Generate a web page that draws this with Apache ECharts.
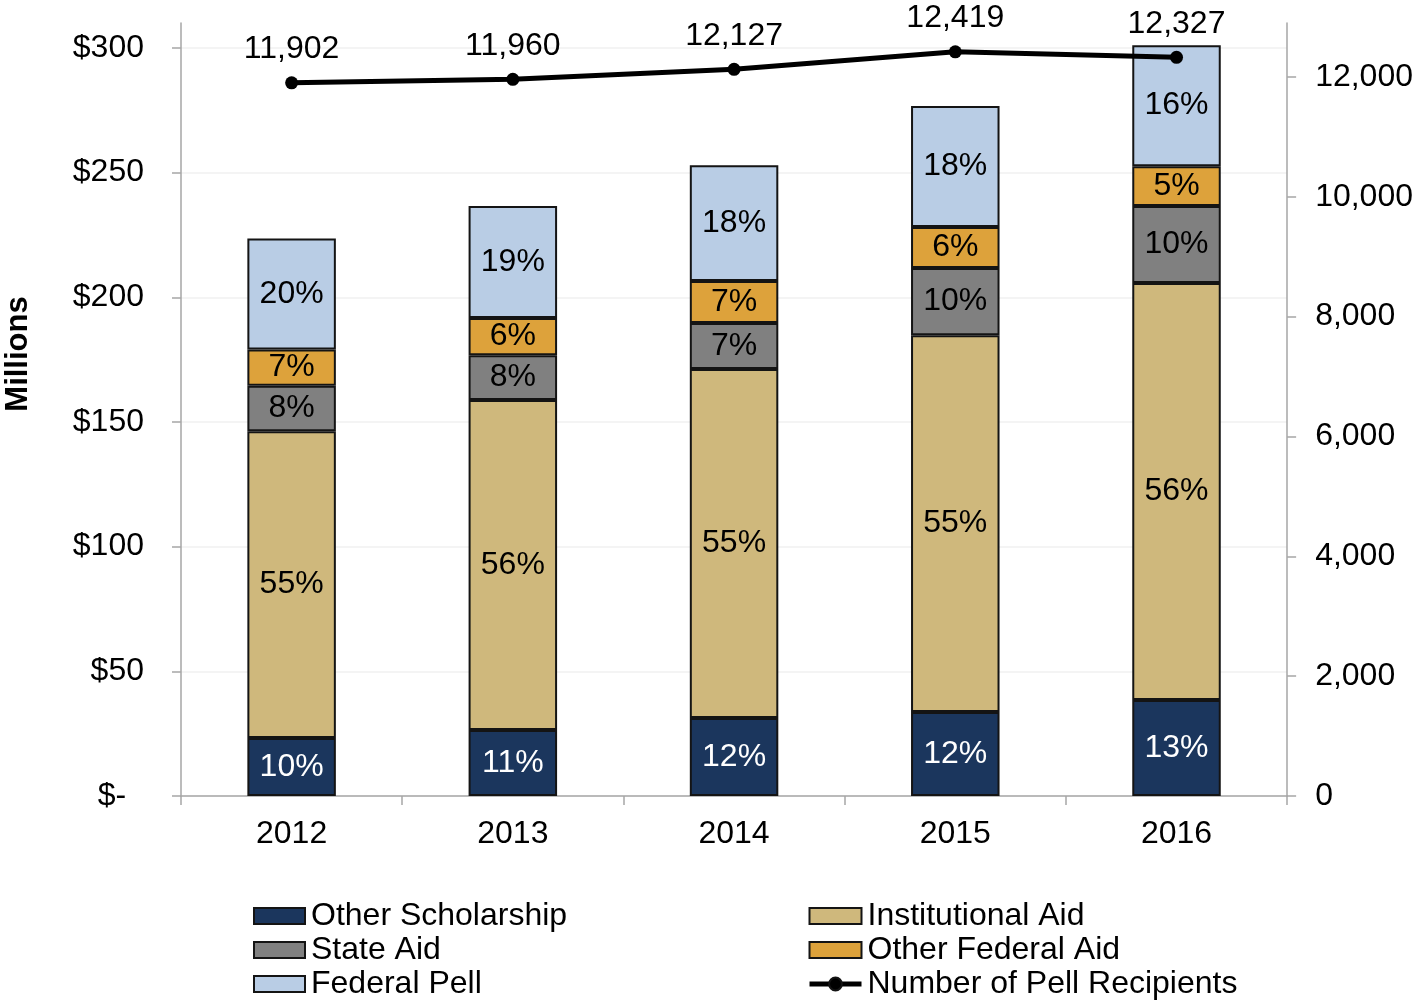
<!DOCTYPE html>
<html>
<head>
<meta charset="utf-8">
<title>Student Aid by Source</title>
<script src="https://cdn.jsdelivr.net/npm/echarts@6/dist/echarts.min.js"></script>
<style>
  html, body { margin: 0; padding: 0; background: #ffffff; }
  #chart { width: 1416px; height: 1002px; }
</style>
</head>
<body>
<div id="chart"></div>
<script>
// Aid dollars by source, in millions
const years = ['2012', '2013', '2014', '2015', '2016'];
const otherScholarship = [23.3, 26.5, 31.3, 33.7, 38.5];
const institutionalAid = [123.0, 132.3, 139.9, 151.1, 167.2];
const stateAid = [18.2, 18.0, 18.5, 26.9, 30.9];
const otherFederalAid = [14.6, 14.9, 16.8, 16.5, 16.0];
const federalPell = [44.5, 44.9, 46.5, 48.5, 48.5];
// Head count of Pell recipients (right axis)
const pellRecipients = [11902, 11960, 12127, 12419, 12327];

const dollarTicks = [0, 50, 100, 150, 200, 250, 300];
const countTicks = [0, 2000, 4000, 6000, 8000, 10000, 12000];

const FONT = "'Liberation Sans', Arial, sans-serif";
const FS = 32;
const BORDER = '#141414';

const stacks = [
  { name: 'Other Scholarship', data: otherScholarship, color: '#1B365D', text: '#ffffff' },
  { name: 'Institutional Aid', data: institutionalAid, color: '#CFB87C', text: '#000000' },
  { name: 'State Aid', data: stateAid, color: '#808080', text: '#000000' },
  { name: 'Other Federal Aid', data: otherFederalAid, color: '#DDA23B', text: '#000000' },
  { name: 'Federal Pell', data: federalPell, color: '#B9CDE5', text: '#000000' }
];

// total per year, used for the share labels inside each segment
const totals = years.map((_, i) => stacks.reduce((s, st) => s + st.data[i], 0));

const barSeries = stacks.map(st => ({
  name: st.name,
  type: 'bar',
  stack: 'aid',
  yAxisIndex: 0,
  barWidth: '40%',
  data: st.data,
  itemStyle: { color: st.color, borderColor: BORDER, borderWidth: 2 },
  label: {
    show: true,
    position: 'inside',
    color: st.text,
    fontFamily: FONT,
    fontSize: FS,
    formatter: p => Math.round(p.value / totals[p.dataIndex] * 100) + '%'
  },
  emphasis: { disabled: true }
}));

const lineSeries = {
  name: 'Number of Pell Recipients',
  type: 'line',
  yAxisIndex: 1,
  data: pellRecipients,
  z: 5,
  symbol: 'circle',
  symbolSize: 13,
  lineStyle: { color: '#000000', width: 5 },
  itemStyle: { color: '#000000' },
  label: {
    show: true,
    position: 'top',
    distance: 11,
    color: '#000000',
    fontFamily: FONT,
    fontSize: FS,
    formatter: p => p.value.toLocaleString('en-US')
  },
  emphasis: { disabled: true }
};

const legendText = { fontFamily: FONT, fontSize: FS, color: '#000000', lineHeight: 30, padding: [0, 0, 0, 1] };
const legendBase = {
  orient: 'vertical',
  top: 900,
  height: 110,
  padding: 0,
  itemHeight: 16,
  itemGap: 2,
  selectedMode: false,
  textStyle: legendText,
  itemStyle: { borderColor: BORDER, borderWidth: 2 },
  lineStyle: { width: 5 }
};

const option = {
  animation: false,
  backgroundColor: '#ffffff',
  textStyle: { fontFamily: FONT },
  grid: { left: 181, right: 124, top: 23, bottom: 206, containLabel: false },
  xAxis: {
    type: 'category',
    data: years,
    axisLine: { lineStyle: { color: '#a6a6a6', width: 1.5 } },
    axisTick: { show: true, length: 9, lineStyle: { color: '#a6a6a6', width: 1.5 } },
    axisLabel: { fontFamily: FONT, fontSize: FS, color: '#000000', margin: 22 }
  },
  yAxis: [
    {
      type: 'value',
      min: 0,
      max: 310,
      interval: 50,
      axisLine: { show: true, lineStyle: { color: '#a6a6a6', width: 1.5 } },
      axisTick: { show: true, length: 9, customValues: dollarTicks, lineStyle: { color: '#a6a6a6', width: 1.5 } },
      axisLabel: {
        fontFamily: FONT, fontSize: FS, color: '#000000', margin: 37,
        customValues: dollarTicks,
        formatter: v => v === 0 ? '$-  ' : '$' + v
      },
      splitLine: { show: true, lineStyle: { color: '#f0f0f0', width: 1.5 } }
    },
    {
      type: 'value',
      min: 0,
      max: 12900,
      interval: 2000,
      position: 'right',
      axisLine: { show: true, lineStyle: { color: '#a6a6a6', width: 1.5 } },
      axisTick: { show: true, length: 9, customValues: countTicks, lineStyle: { color: '#a6a6a6', width: 1.5 } },
      axisLabel: {
        fontFamily: FONT, fontSize: FS, color: '#000000', margin: 28,
        customValues: countTicks,
        formatter: v => v.toLocaleString('en-US')
      },
      splitLine: { show: false }
    }
  ],
  legend: [
    Object.assign({}, legendBase, {
      left: 253,
      itemWidth: 51,
      data: [
        { name: 'Other Scholarship', icon: 'rect' },
        { name: 'State Aid', icon: 'rect' },
        { name: 'Federal Pell', icon: 'rect' }
      ]
    }),
    Object.assign({}, legendBase, {
      left: 807,
      itemWidth: 52,
      data: [
        { name: 'Institutional Aid', icon: 'rect' },
        { name: 'Other Federal Aid', icon: 'rect' },
        { name: 'Number of Pell Recipients' }
      ]
    })
  ],
  graphic: [
    {
      type: 'text',
      x: 18,
      y: 354,
      rotation: Math.PI / 2,
      style: {
        text: 'Millions',
        font: "bold 31px 'Liberation Sans', Arial, sans-serif",
        fill: '#000000',
        align: 'center',
        verticalAlign: 'middle'
      }
    }
  ],
  series: [...barSeries, lineSeries]
};

const chart = echarts.init(document.getElementById('chart'), null, { renderer: 'canvas' });
chart.setOption(option);
</script>
</body>
</html>
